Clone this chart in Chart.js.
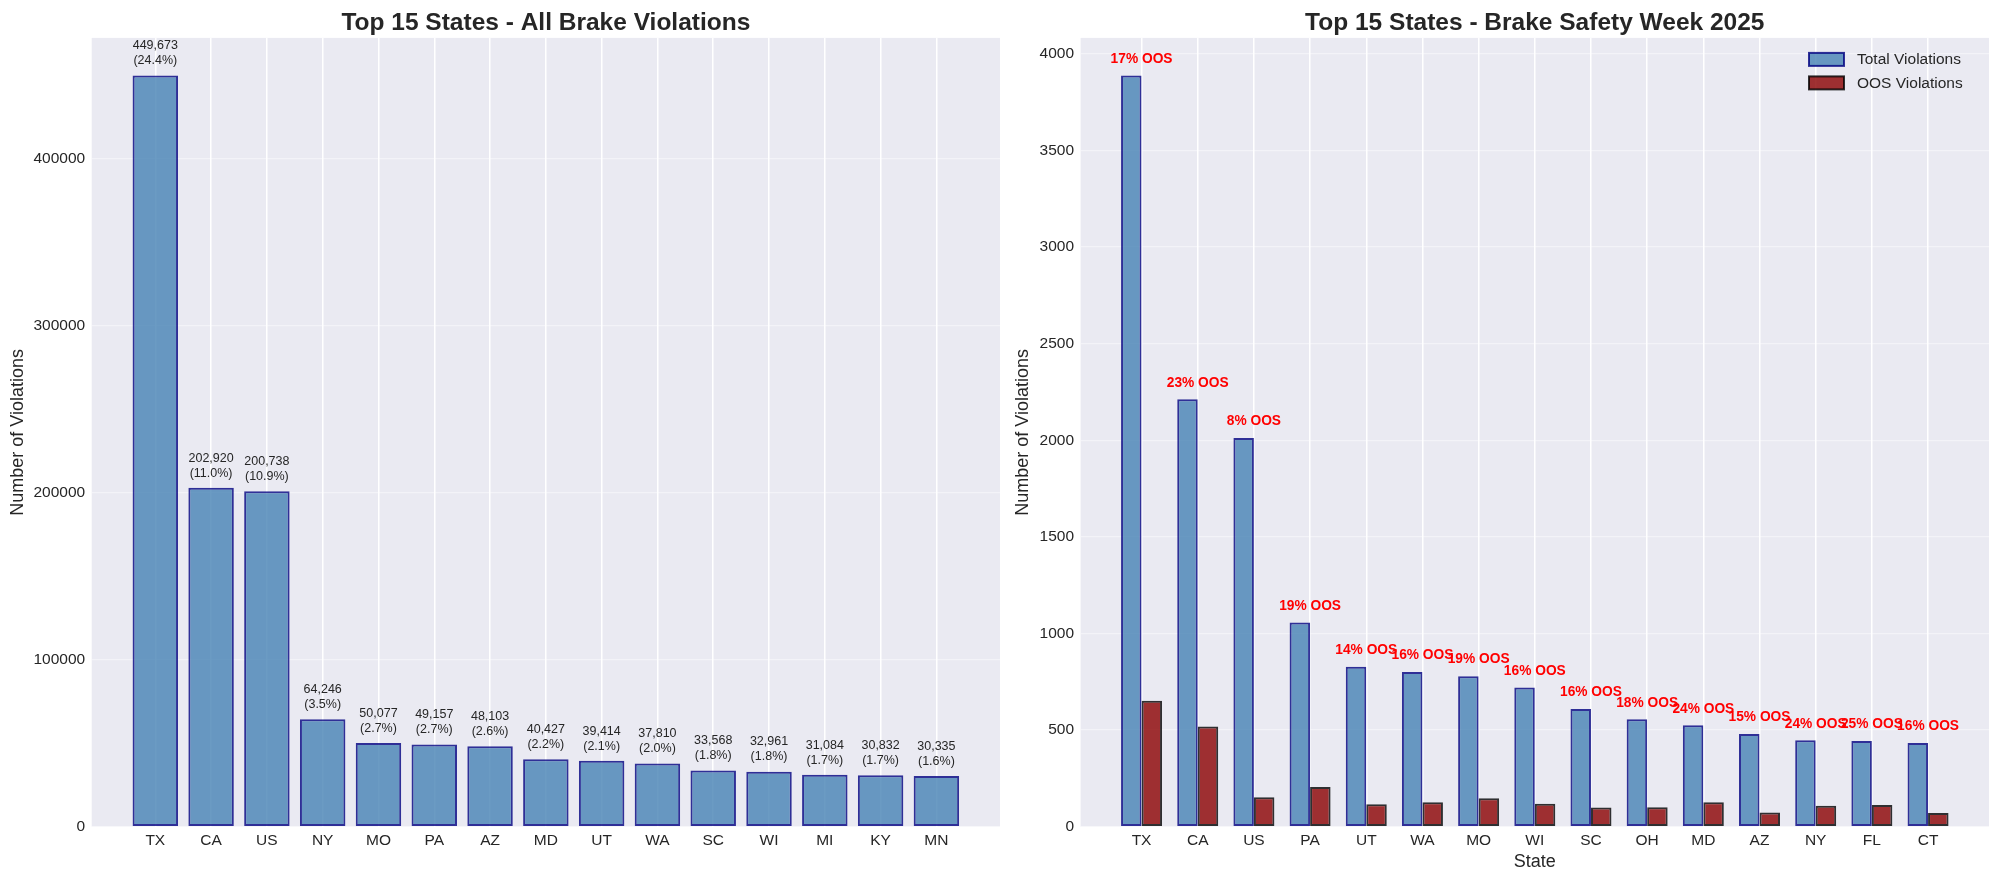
<!DOCTYPE html>
<html>
<head>
<meta charset="utf-8">
<script src="https://cdn.jsdelivr.net/npm/chart.js@4.4.1/dist/chart.umd.min.js"></script>
<style>
    body { margin: 0; background: #fff; }
    canvas { position: absolute; top: 0; }
    #allChart { left: 0; }
    #bswChart { left: 1000px; }
</style>
</head>
<body>
<canvas id="allChart" width="1000" height="882"></canvas>
<canvas id="bswChart" width="1000" height="882"></canvas>
<script>
// left panel: all brake violations
const allStates = ['TX', 'CA', 'US', 'NY', 'MO', 'PA', 'AZ', 'MD', 'UT', 'WA', 'SC', 'WI', 'MI', 'KY', 'MN'];
const allViolations = [449673, 202920, 200738, 64246, 50077, 49157, 48103, 40427, 39414, 37810, 33568, 32961, 31084, 30832, 30335];
const allPercent = [24.4, 11.0, 10.9, 3.5, 2.7, 2.7, 2.6, 2.2, 2.1, 2.0, 1.8, 1.8, 1.7, 1.7, 1.6];
const allTicks = [0, 100000, 200000, 300000, 400000];

// right panel: brake safety week 2025
const bswStates = ['TX', 'CA', 'US', 'PA', 'UT', 'WA', 'MO', 'WI', 'SC', 'OH', 'MD', 'AZ', 'NY', 'FL', 'CT'];
const bswTotal = [3888, 2212, 2012, 1057, 828, 800, 779, 720, 609, 556, 525, 480, 447, 443, 433];
const bswOos = [652, 518, 152, 206, 116, 127, 147, 119, 99, 101, 126, 73, 108, 112, 71];
const bswOosPct = [17, 23, 8, 19, 14, 16, 19, 16, 16, 18, 24, 15, 24, 25, 16];
const bswTicks = [0, 500, 1000, 1500, 2000, 2500, 3000, 3500, 4000];

const FONT = '"Liberation Sans", Arial, Helvetica, sans-serif';
const TEXT = '#262626';
const BLUE = 'rgba(70, 130, 180, 0.8)';
const BLUE_EDGE = 'rgba(0, 0, 128, 0.8)';
const RED = 'rgba(139, 0, 0, 0.8)';
const RED_EDGE = 'rgba(0, 0, 0, 0.8)';

Chart.defaults.font.family = FONT;
Chart.defaults.color = TEXT;

const plotBackground = {
    id: 'plotBackground',
    beforeDraw(chart) {
        const { ctx, chartArea: a } = chart;
        ctx.save();
        ctx.fillStyle = '#EAEAF2';
        ctx.fillRect(a.left, a.top, a.right - a.left, a.bottom - a.top);
        ctx.restore();
    }
};

function stateAxis(names, pad) {
    return {
        type: 'linear',
        offset: false,
        min: -pad,
        max: names.length - 1 + pad,
        afterBuildTicks: scale => {
            scale.ticks = names.map((_, i) => ({ value: i }));
        },
        ticks: {
            callback: v => names[v],
            autoSkip: false,
            maxRotation: 0,
            padding: 5,
            color: TEXT,
            font: { size: 15.5 }
        },
        grid: { color: '#ffffff', lineWidth: 1.5, drawTicks: false, offset: false },
        border: { display: false },
        afterFit: scale => { scale.height = 55.3; }
    };
}

function countAxis(tickValues, maxValue, width, titlePad) {
    return {
        min: 0,
        max: maxValue,
        afterBuildTicks: scale => {
            scale.ticks = tickValues.map(v => ({ value: v }));
        },
        ticks: {
            padding: 6.5,
            callback: v => String(v),
            color: TEXT,
            font: { size: 15.5 }
        },
        grid: { color: 'rgba(255, 255, 255, 0.45)', lineWidth: 1.2, drawTicks: false },
        border: { display: false },
        title: {
            display: true,
            text: 'Number of Violations',
            color: TEXT,
            font: { size: 18 },
            padding: { top: titlePad, bottom: 0 }
        },
        afterFit: scale => { scale.width = width; }
    };
}

function titleOptions(text) {
    return {
        display: true,
        text: text,
        color: TEXT,
        font: { size: 24.5, weight: 'bold' },
        padding: { top: 8.5, bottom: 0 },
        fullSize: false
    };
}

// value + share labels above the left bars
const allLabels = {
    id: 'allLabels',
    afterDatasetsDraw(chart) {
        const { ctx, scales: { x, y } } = chart;
        ctx.save();
        ctx.font = '12.5px ' + FONT;
        ctx.fillStyle = TEXT;
        ctx.textAlign = 'center';
        ctx.textBaseline = 'bottom';
        allViolations.forEach((v, i) => {
            const px = x.getPixelForValue(i);
            const py = y.getPixelForValue(v + 5000);
            ctx.fillText('(' + allPercent[i].toFixed(1) + '%)', px, py);
            ctx.fillText(v.toLocaleString('en-US'), px, py - 15);
        });
        ctx.restore();
    }
};

// red OOS share labels and the legend for the right panel
const bswLabels = {
    id: 'bswLabels',
    afterDatasetsDraw(chart) {
        const { ctx, scales: { x, y } } = chart;
        ctx.save();
        ctx.font = 'bold 13.75px ' + FONT;
        ctx.fillStyle = '#ff0000';
        ctx.textAlign = 'center';
        ctx.textBaseline = 'bottom';
        bswTotal.forEach((v, i) => {
            ctx.fillText(bswOosPct[i] + '% OOS', x.getPixelForValue(i), y.getPixelForValue(v + 50));
        });
        ctx.restore();
    },
    afterDraw(chart) {
        const { ctx, chartArea: a } = chart;
        ctx.save();
        ctx.font = '15.5px ' + FONT;
        ctx.textBaseline = 'middle';
        ctx.textAlign = 'left';
        chart.data.datasets.forEach((ds, k) => {
            const top = a.top + 15 + k * 23.5;
            ctx.fillStyle = ds.backgroundColor;
            ctx.fillRect(a.right - 180, top, 35, 13);
            ctx.strokeStyle = ds.borderColor;
            ctx.lineWidth = 2;
            ctx.strokeRect(a.right - 180, top, 35, 13);
            ctx.fillStyle = TEXT;
            ctx.fillText(ds.label, a.right - 132, top + 7);
        });
        ctx.restore();
    }
};

new Chart(document.getElementById('allChart'), {
    type: 'bar',
    data: {
        datasets: [{
            label: 'All Brake Violations',
            data: allViolations.map((v, i) => ({ x: i, y: v })),
            backgroundColor: BLUE,
            borderColor: BLUE_EDGE,
            borderWidth: 2,
            borderSkipped: false,
            categoryPercentage: 0.815,
            barPercentage: 1
        }]
    },
    options: {
        responsive: false,
        animation: false,
        events: [],
        layout: { padding: 0 },
        scales: {
            x: stateAxis(allStates, 1.14),
            y: countAxis(allTicks, Math.max(...allViolations) * 1.05, 91.7, 7.2)
        },
        plugins: {
            legend: { display: false },
            tooltip: { enabled: false },
            title: titleOptions('Top 15 States - All Brake Violations')
        }
    },
    plugins: [plotBackground, allLabels]
});

const bswX = stateAxis(bswStates, 1.085);
bswX.title = {
    display: true,
    text: 'State',
    color: TEXT,
    font: { size: 18 },
    padding: { top: 0, bottom: 9.2 }
};

new Chart(document.getElementById('bswChart'), {
    type: 'bar',
    data: {
        datasets: [{
            label: 'Total Violations',
            data: bswTotal.map((v, i) => ({ x: i, y: v })),
            backgroundColor: BLUE,
            borderColor: BLUE_EDGE,
            borderWidth: 2,
            borderSkipped: false,
            categoryPercentage: 0.73,
            barPercentage: 1
        }, {
            label: 'OOS Violations',
            data: bswOos.map((v, i) => ({ x: i, y: v })),
            backgroundColor: RED,
            borderColor: RED_EDGE,
            borderWidth: 2,
            borderSkipped: false,
            categoryPercentage: 0.73,
            barPercentage: 1
        }]
    },
    options: {
        responsive: false,
        animation: false,
        events: [],
        layout: { padding: { right: 11 } },
        scales: {
            x: bswX,
            y: countAxis(bswTicks, Math.max(...bswTotal) * 1.05, 80.6, 12.2)
        },
        plugins: {
            legend: { display: false },
            tooltip: { enabled: false },
            title: titleOptions('Top 15 States - Brake Safety Week 2025')
        }
    },
    plugins: [plotBackground, bswLabels]
});
</script>
</body>
</html>
